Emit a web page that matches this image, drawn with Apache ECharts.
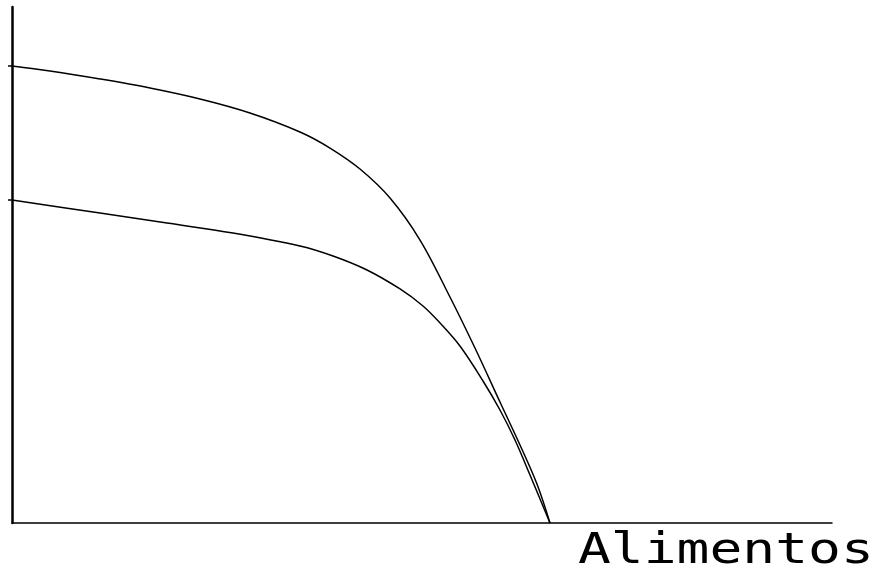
<!DOCTYPE html>
<html>
<head>
<meta charset="utf-8">
<script src="https://cdn.jsdelivr.net/npm/echarts@6/dist/echarts.min.js"></script>
<style>
  html, body { margin: 0; padding: 0; background: #fff; }
  #chart { width: 878px; height: 570px; }
</style>
</head>
<body>
<div id="chart"></div>
<script>
// frontera de posibilidades de producción (escala 0-100 en ambos ejes)
var upperX = [0, 4.63, 10.73, 16.83, 22.93, 29.02, 35.12, 38.78, 42.44, 46.10, 49.76, 53.41, 56.46, 59.51, 61.95, 64.02, 65.61]
var upperY = [88.57, 87.60, 86.05, 84.30, 82.17, 79.46, 75.78, 72.67, 68.60, 62.98, 54.84, 43.80, 33.91, 23.45, 15.12, 7.56, 0]
var lowerX = [0, 10.73, 18.90, 26.95, 35.12, 39.15, 43.29, 47.32, 50.12, 52.20, 54.63, 57.44, 59.51, 61.34, 63.17, 65.61]
var lowerY = [62.60, 60.08, 58.14, 56.20, 53.68, 51.74, 49.03, 45.35, 42.05, 38.76, 34.30, 27.52, 21.90, 16.09, 9.30, 0]
var xAxisName = 'Alimentos'

function zip(xs, ys) {
  return xs.map(function (x, i) { return [x, ys[i]] })
}

var chart = echarts.init(document.getElementById('chart'), null, { renderer: 'canvas' })
chart.setOption({
  backgroundColor: '#fff',
  animation: false,
  grid: { left: 12, right: 46, top: 7, bottom: 47 },
  xAxis: {
    type: 'value',
    min: 0,
    max: 100,
    axisLine: { show: true, lineStyle: { color: '#000', width: 1.5 } },
    axisTick: { show: false },
    axisLabel: { show: false },
    splitLine: { show: false }
  },
  yAxis: {
    type: 'value',
    min: 0,
    max: 100,
    axisLine: { show: true, lineStyle: { color: '#000', width: 2.5 } },
    axisTick: {
      show: true,
      length: 4,
      customValues: [upperY[0], lowerY[0]],
      lineStyle: { color: '#000', width: 1.5 }
    },
    axisLabel: { show: false },
    splitLine: { show: false }
  },
  graphic: [
    {
      type: 'text',
      left: 578,
      top: 531,
      scaleX: 1.3,
      style: {
        text: xAxisName,
        font: '42px "DejaVu Sans Mono"',
        fill: '#000'
      }
    }
  ],
  series: [
    {
      type: 'line',
      data: zip(upperX, upperY),
      smooth: 0.35,
      showSymbol: false,
      lineStyle: { color: '#000', width: 1.5 }
    },
    {
      type: 'line',
      data: zip(lowerX, lowerY),
      smooth: 0.35,
      showSymbol: false,
      lineStyle: { color: '#000', width: 1.5 }
    }
  ]
})
</script>
</body>
</html>
